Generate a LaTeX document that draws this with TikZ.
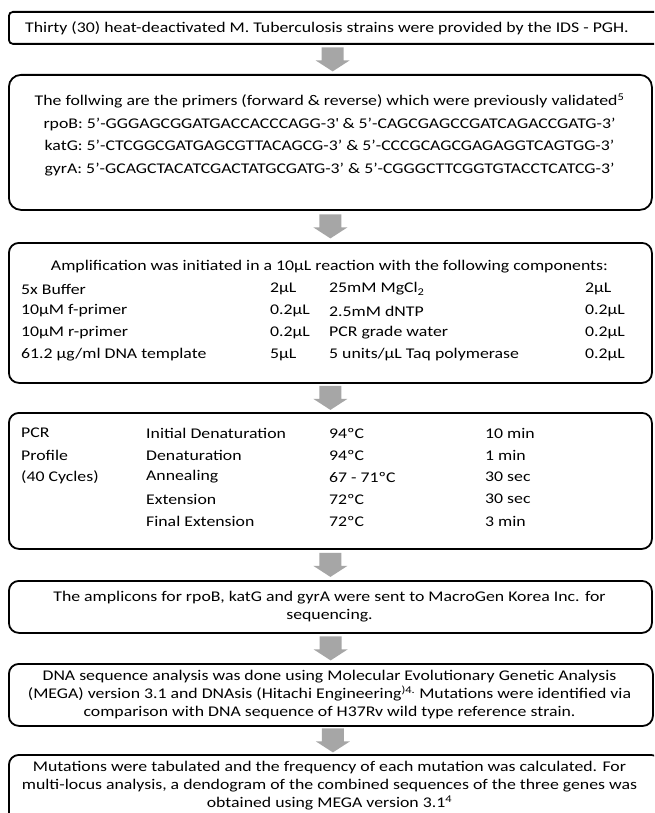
\documentclass[tikz,border=0pt]{standalone}
\usepackage{fontspec}
\setmainfont{Carlito}[FakeStretch=1.2]
\usetikzlibrary{calc}
\definecolor{arrowgray}{HTML}{A6A6A6}
\newcommand\bodyfont{\fontsize{14.8}{18}\selectfont}
\begin{document}
\begin{tikzpicture}[x=1pt,y=-1pt,
  box/.style={draw=black, line width=1.8pt, rounded corners=10pt, inner sep=0pt, anchor=north west},
  txt/.style={font=\bodyfont, inner sep=0pt, align=center},
  cell/.style={font=\bodyfont, inner sep=0pt, anchor=west},
  downarr/.pic={\fill[arrowgray] (-11,-12) -- (11,-12) -- (11,1) -- (17,1) -- (0,12) -- (-17,1) -- (-11,1) -- cycle;}
]
\useasboundingbox (0,0) rectangle (654,813);
\clip (0,0) rectangle (654,813);
\fill[white] (0,0) rectangle (654,813);

% boxes
\node[box, rounded corners=4pt, minimum width=652pt, minimum height=32pt] (b1) at (8,11) {};
\node[box, rounded corners=12pt, minimum width=643pt, minimum height=135pt] (b2) at (8,74) {};
\node[box, minimum width=643pt, minimum height=140pt] (b3) at (8,242) {};
\node[box, minimum width=643pt, minimum height=136pt] (b4) at (8,412) {};
\node[box, minimum width=643pt, minimum height=52pt] (b5) at (8,580) {};
\node[box, minimum width=644pt, minimum height=62pt] (b6) at (8,663) {};
\node[box, minimum width=652pt, minimum height=80pt] (b7) at (8,754) {};

% arrows
\path ($(b1.south)!0.5!(b2.north)$) pic {downarr};
\path ($(b2.south)!0.5!(b3.north)$) pic {downarr};
\path ($(b3.south)!0.5!(b4.north)$) pic {downarr};
\path ($(b4.south)!0.5!(b5.north)$) pic {downarr};
\path ($(b5.south)!0.5!(b6.north)$) pic {downarr};
\path ($(b6.south)!0.5!(b7.north)$) pic {downarr};

% box 1
\node[txt] (t1) at (327,28) {Thirty (30) heat-deactivated M. Tuberculosis strains were provided by the IDS - PGH.};

% box 2
\node[txt, font=\fontsize{14.8}{22.5}\selectfont] (t2) at (329.5,135) {The follwing are the primers (forward \& reverse) which were previously validated\textsuperscript{5}\\
rpoB: 5’-GGGAGCGGATGACCACCCAGG-3\textquotesingle{} \& 5’-CAGCGAGCCGATCAGACCGATG-3’\\
katG: 5’-CTCGGCGATGAGCGTTACAGCG-3’ \& 5’-CCCGCAGCGAGAGGTCAGTGG-3’\\
gyrA: 5’-GCAGCTACATCGACTATGCGATG-3’ \& 5’-CGGGCTTCGGTGTACCTCATCG-3’};

% box 3
\node[txt] (t3) at (329.5,267) {Amplification was initiated in a 10µL reaction with the following components:};
\node[cell] (c11) at (21,289) {5x Buffer};
\node[cell] (c12) at (270,289) {2µL};
\node[cell] (c13) at (329,289) {25mM MgCl\textsubscript{2}};
\node[cell] (c14) at (585,289) {2µL};
\node[cell] (c21) at (21,311) {10µM f-primer};
\node[cell] (c22) at (270,311) {0.2µL};
\node[cell] (c23) at (329,311) {2.5mM dNTP};
\node[cell] (c24) at (585,311) {0.2µL};
\node[cell] (c31) at (21,333) {10µM r-primer};
\node[cell] (c32) at (270,333) {0.2µL};
\node[cell] (c33) at (329,333) {PCR grade water};
\node[cell] (c34) at (585,333) {0.2µL};
\node[cell] (c41) at (21,355) {61.2 µg/ml DNA template};
\node[cell] (c42) at (270,355) {5µL};
\node[cell] (c43) at (329,355) {5 units/µL Taq polymerase};
\node[cell] (c44) at (585,355) {0.2µL};

% box 4
\node[cell] (p11) at (21,433) {PCR};
\node[cell] (p12) at (146,433) {Initial Denaturation};
\node[cell] (p13) at (329,433) {94ºC};
\node[cell] (p14) at (485,433) {10 min};
\node[cell] (p21) at (21,455) {Profile};
\node[cell] (p22) at (146,455) {Denaturation};
\node[cell] (p23) at (329,455) {94ºC};
\node[cell] (p24) at (485,455) {1 min};
\node[cell] (p31) at (21,477) {(40 Cycles)};
\node[cell] (p32) at (146,477) {Annealing};
\node[cell] (p33) at (329,477) {67 - 71ºC};
\node[cell] (p34) at (485,477) {30 sec};
\node[cell] (p42) at (146,499) {Extension};
\node[cell] (p43) at (329,499) {72ºC};
\node[cell] (p44) at (485,499) {30 sec};
\node[cell] (p52) at (146,521) {Final Extension};
\node[cell] (p53) at (329,521) {72ºC};
\node[cell] (p54) at (485,521) {3 min};

% box 5
\node[txt] (t5) at (329.5,607) {The amplicons for rpoB, katG and gyrA were sent to MacroGen Korea Inc. for\\sequencing.};

% box 6
\node[txt] (t6) at (329.5,695) {DNA sequence analysis was done using Molecular Evolutionary Genetic Analysis\\
(MEGA) version 3.1 and DNAsis (Hitachi Engineering\textsuperscript{)4.} Mutations were identified via\\
comparison with DNA sequence of H37Rv wild type reference strain.};

% box 7
\node[txt] (t7) at (329.5,786) {Mutations were tabulated and the frequency of each mutation was calculated. For\\
multi-locus analysis, a dendogram of the combined sequences of the three genes was\\
obtained using MEGA version 3.1\textsuperscript{4}};
\end{tikzpicture}
\end{document}
